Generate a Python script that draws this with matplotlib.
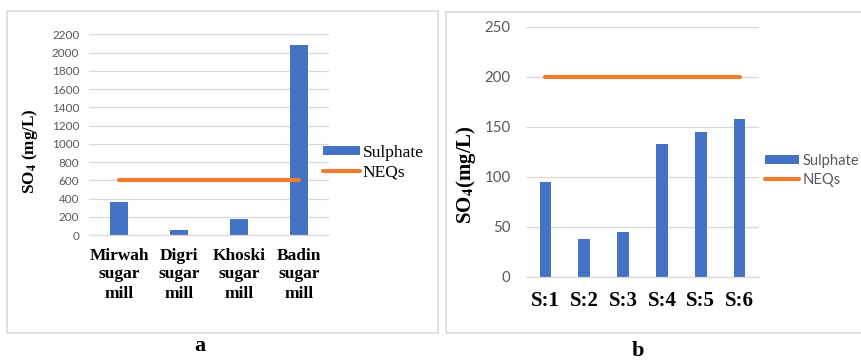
import numpy as np
import matplotlib.pyplot as plt
from matplotlib.patches import Rectangle

# sulphate per sugar mill (panel a)
mills = ['Mirwah\nsugar\nmill', 'Digri\nsugar\nmill', 'Khoski\nsugar\nmill', 'Badin\nsugar\nmill']
mill_so4 = [360, 55, 175, 2080]
mill_neq = [600, 600, 600, 600]

# sulphate per sampling site (panel b)
sites = ['S:1', 'S:2', 'S:3', 'S:4', 'S:5', 'S:6']
site_so4 = [95, 38, 45, 133, 145, 158]
site_neq = [200, 200, 200, 200, 200, 200]

BLUE = '#4472C4'
ORANGE = '#ED7D31'
GRID = '#d9d9d9'
TICK = '#595959'
SERIF = 'Liberation Serif'
SANS = 'Lato'

plt.rcParams['mathtext.fontset'] = 'stix'

W, H = 862, 361
fig = plt.figure(figsize=(W / 100, H / 100), dpi=100)


def px_axes(x0, x1, y0, y1):
    # axes from pixel box (y measured from top)
    return fig.add_axes([x0 / W, (H - y1) / H, (x1 - x0) / W, (y1 - y0) / H])


def frame(x0, x1, y0, y1):
    fig.patches.append(Rectangle((x0 / W, (H - y1) / H), (x1 - x0) / W, (y1 - y0) / H,
                                 transform=fig.transFigure, fill=False,
                                 edgecolor=GRID, linewidth=1.2))


def style(ax, ymax, step):
    ax.set_ylim(0, ymax)
    ax.set_yticks(np.arange(0, ymax + 1, step))
    ax.grid(axis='y', color=GRID, linewidth=0.9)
    ax.set_axisbelow(True)
    for s in ['top', 'right', 'left']:
        ax.spines[s].set_visible(False)
    ax.spines['bottom'].set_color(GRID)
    ax.spines['bottom'].set_linewidth(0.9)
    ax.tick_params(length=0)


def draw(ax, labels, so4, neq):
    x = np.arange(len(labels))
    bars = ax.bar(x, so4, width=0.3, color=BLUE, label='Sulphate', zorder=2)
    line, = ax.plot(x, neq, color=ORANGE, linewidth=3, solid_capstyle='round',
                    label='NEQs', zorder=3)
    ax.set_xlim(-0.5, len(labels) - 0.5)
    ax.set_xticks(x)
    return [bars, line]


frame(7, 438, 11, 333)
frame(446, 900, 12, 333)

# panel a
ax1 = px_axes(89, 329, 34.3, 235)
h1 = draw(ax1, mills, mill_so4, mill_neq)
style(ax1, 2200, 200)
ax1.set_xticklabels(mills, fontfamily=SERIF, fontweight='bold', fontsize=12.5, linespacing=1.25)
ax1.tick_params(axis='x', pad=9)
ax1.tick_params(axis='y', pad=7, labelcolor=TICK, labelsize=8.5)
for t in ax1.get_yticklabels():
    t.set_fontfamily(SANS)
ax1.set_ylabel('SO$_\\mathbf{4}$ (mg/L)', fontfamily=SERIF, fontweight='bold', fontsize=12.3)
ax1.yaxis.set_label_coords(-0.204, 0.42)
ax1.legend(h1, ['Sulphate', 'NEQs'], loc='center left', bbox_to_anchor=(0.975, 0.361),
           frameon=False, borderpad=0, borderaxespad=0, handlelength=2.13,
           handleheight=0.46, handletextpad=0.15, labelspacing=0.2,
           prop={'family': SERIF, 'size': 12.5})

# panel b
ax2 = px_axes(526, 759, 27, 277)
h2 = draw(ax2, sites, site_so4, site_neq)
style(ax2, 250, 50)
ax2.set_xticklabels(sites, fontfamily=SERIF, fontweight='bold', fontsize=15)
ax2.tick_params(axis='x', pad=10)
ax2.tick_params(axis='y', pad=11, labelcolor=TICK, labelsize=10.8)
for t in ax2.get_yticklabels():
    t.set_fontfamily(SANS)
ax2.set_ylabel('SO$_\\mathbf{4}$(mg/L)', fontfamily=SERIF, fontweight='bold', fontsize=15)
ax2.yaxis.set_label_coords(-0.206, 0.41)
leg = ax2.legend(h2, ['Sulphate', 'NEQs'], loc='center left', bbox_to_anchor=(1.025, 0.426),
                 frameon=False, borderpad=0, borderaxespad=0, handlelength=2.3,
                 handleheight=0.6, handletextpad=0.25, labelspacing=0.35,
                 prop={'family': SANS, 'size': 10.6})
for t in leg.get_texts():
    t.set_color(TICK)

fig.text(200 / W, 1 - 346 / H, 'a', fontfamily=SERIF, fontweight='bold', fontsize=16,
         ha='center', va='center')
fig.text(638 / W, 1 - 351 / H, 'b', fontfamily=SERIF, fontweight='bold', fontsize=16,
         ha='center', va='center')

fig.savefig('out.png', dpi=100, facecolor='white')
